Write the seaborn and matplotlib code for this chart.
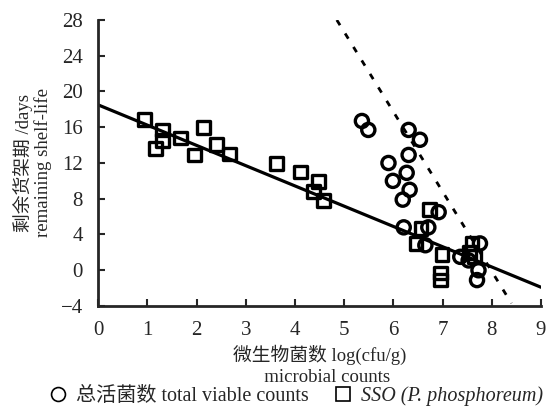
import numpy as np
import pandas as pd
import matplotlib
matplotlib.use("Agg")
import matplotlib.pyplot as plt
import seaborn as sns
from matplotlib.lines import Line2D

# SSO (P. phosphoreum) counts vs remaining shelf-life
sso_x = [0.94, 1.31, 1.31, 1.16, 1.68, 2.14, 1.95, 2.40, 2.67,
         3.63, 4.11, 4.48, 4.38, 4.58,
         6.73, 6.56, 6.46, 6.99, 6.95, 6.95, 7.60, 7.55, 7.65]
sso_y = [16.9, 15.7, 14.5, 13.6, 14.8, 16.0, 12.9, 14.1, 13.0,
         11.9, 11.0, 9.9, 8.8, 7.8,
         6.8, 4.7, 3.0, 1.8, -0.3, -1.1, 3.0, 2.0, 1.5]

# total viable counts vs remaining shelf-life
tvc_x = [5.36, 5.49, 6.31, 6.54, 6.31, 5.90, 6.27, 5.99, 6.33, 6.19,
         6.92, 6.21, 6.71, 6.65, 7.36, 7.53, 7.76, 7.73, 7.70]
tvc_y = [16.7, 15.7, 15.7, 14.6, 12.9, 12.0, 10.9, 10.0, 9.0, 7.9,
         6.5, 4.8, 4.8, 2.8, 1.5, 1.1, 3.0, 0.0, -1.1]

# fitted lines (end points)
sso_fit_x = [0.0, 9.0]
sso_fit_y = [18.5, -1.9]
tvc_fit_x = [4.85, 8.40]
tvc_fit_y = [28.0, -3.7]

x_ticks = list(range(0, 10))
y_ticks = list(range(-4, 29, 4))

sns.set_style("ticks")
plt.rcParams["font.family"] = ["Liberation Serif", "Noto Sans CJK SC"]
plt.rcParams["axes.linewidth"] = 2

df_sso = pd.DataFrame({"x": sso_x, "y": sso_y})
df_tvc = pd.DataFrame({"x": tvc_x, "y": tvc_y})

fig = plt.figure(figsize=(5.52, 4.08), dpi=100)
ax = fig.add_axes([0.178, 0.25, 0.802, 0.701])

sns.lineplot(x=sso_fit_x, y=sso_fit_y, ax=ax, color="black", linewidth=2.3)
sns.lineplot(x=tvc_fit_x, y=tvc_fit_y, ax=ax, color="black", linewidth=2,
             linestyle=(0, (2.2, 3.5)))
sns.scatterplot(data=df_sso, x="x", y="y", ax=ax, marker="s", s=85,
                facecolor="none", edgecolor="black", linewidth=2.4, zorder=3)
sns.scatterplot(data=df_tvc, x="x", y="y", ax=ax, marker="o", s=90,
                facecolor="none", edgecolor="black", linewidth=2.4, zorder=3)

ax.set_xlim(0, 9)
ax.set_ylim(-4, 28)
ax.set_xticks(x_ticks)
ax.set_yticks(y_ticks)
ax.tick_params(direction="in", length=5, width=1.5, labelsize=15, pad=11)
sns.despine(ax=ax)

ax.set_xlabel("微生物菌数 log(cfu/g)\n   microbial counts", fontsize=13.5,
              labelpad=3, linespacing=1.3)
ax.set_ylabel("剩余货架期 /days\nremaining shelf-life", fontsize=13.5,
              labelpad=6, linespacing=1.1)

handles = [
    Line2D([], [], marker="o", linestyle="none", markerfacecolor="none",
           markeredgecolor="black", markersize=10, markeredgewidth=1.2),
    Line2D([], [], marker="s", linestyle="none", markerfacecolor="none",
           markeredgecolor="black", markersize=10, markeredgewidth=1.2),
]
leg = fig.legend(handles, ["总活菌数 total viable counts", "SSO (P. phosphoreum)"],
                 loc="lower center", bbox_to_anchor=(0.535, -0.04), ncol=2,
                 frameon=False, fontsize=14.5, handletextpad=0.4,
                 columnspacing=1.2, handlelength=1.0)
leg.get_texts()[1].set_style("italic")

fig.savefig("out.png", dpi=100)
